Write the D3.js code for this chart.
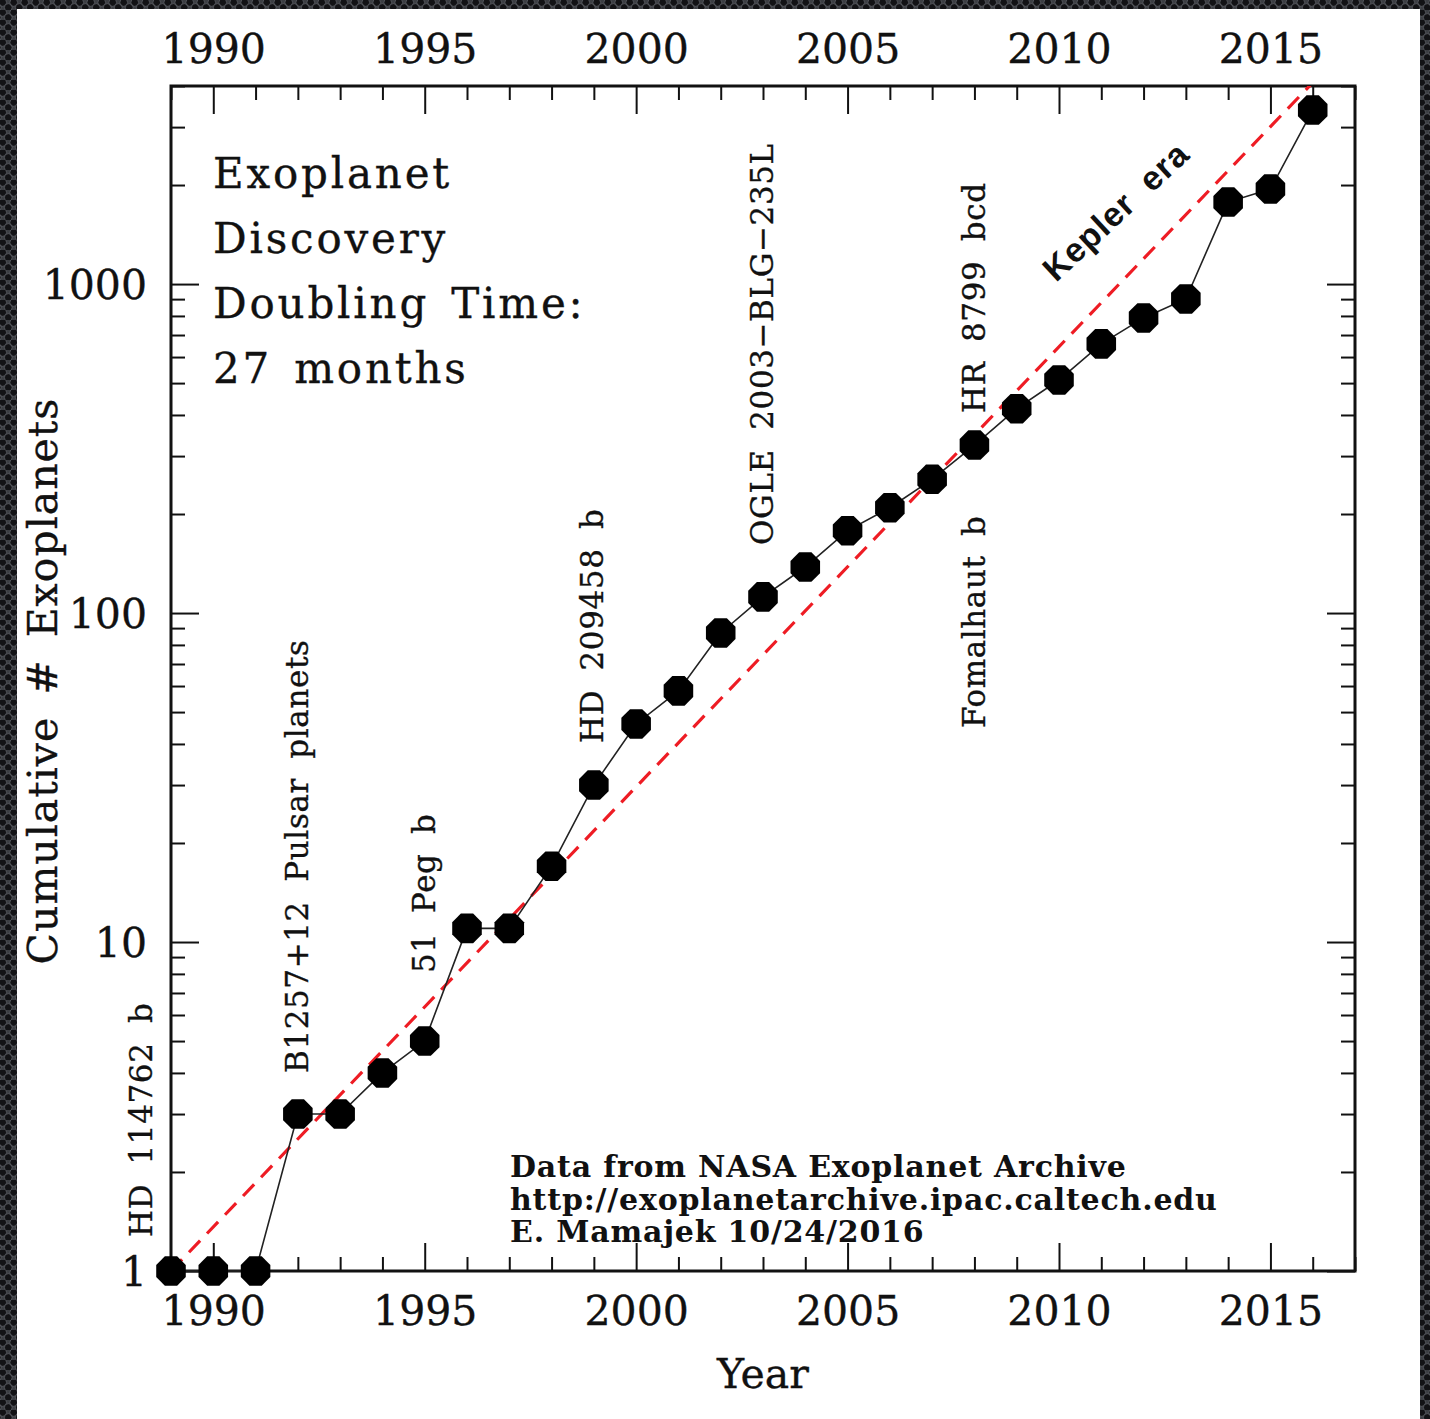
<!DOCTYPE html>
<html>
<head>
<meta charset="utf-8">
<script src="https://cdn.jsdelivr.net/npm/d3@7"></script>
<style>
  html, body { margin: 0; padding: 0; background: #2b2c30; }
  svg { display: block; }
</style>
</head>
<body>
<svg id="chart" width="1430" height="1419"></svg>
<script>
// ---- data -------------------------------------------------------------
const years = [1989, 1990, 1991, 1992, 1993, 1994, 1995, 1996, 1997, 1998,
               1999, 2000, 2001, 2002, 2003, 2004, 2005, 2006, 2007, 2008,
               2009, 2010, 2011, 2012, 2013, 2014, 2015, 2016];
const cumulativePlanets = [1, 1, 1, 3, 3, 4, 5, 11, 11, 17,
                           30, 46, 58, 87, 112, 138, 178, 209, 255, 324,
                           418, 511, 658, 789, 901, 1775, 1944, 3380];

// doubling-time trend (27 months), straight in log space: end points
const trendYears = [1989, 2016];
const trendPlanets = [1, 4096];

const xDomain = [1989, 2017];
const yDomain = [1, 4000];
const xMajorTicks = [1990, 1995, 2000, 2005, 2010, 2015];
const yMajorTicks = [1, 10, 100, 1000];

const milestoneLabels = ["HD 114762 b", "B1257+12 Pulsar planets", "51 Peg b",
                         "HD 209458 b", "OGLE 2003\u2212BLG\u2212235L",
                         "Fomalhaut b", "HR 8799 bcd"];
const titleLines = ["Exoplanet", "Discovery", "Doubling Time:", "27 months"];
const creditLines = ["Data from NASA Exoplanet Archive",
                     "http://exoplanetarchive.ipac.caltech.edu",
                     "E. Mamajek 10/24/2016"];

// ---- layout -----------------------------------------------------------
const W = 1430, H = 1419;
const frame = { left: 171, top: 86, right: 1355, bottom: 1271 };
const serif = "'DejaVu Serif', 'Liberation Serif', serif";
const ink = "#111";

// text placement for the vertical milestone labels: [baseline x, start y]
const milestoneLayout = [[152, 1237], [308, 1073], [435, 973], [603, 743],
                         [773, 545], [985, 728], [985, 413]];

const svg = d3.select("#chart");
const defs = svg.append("defs");

// perforated dark backdrop
const mesh = defs.append("pattern").attr("id", "mesh")
  .attr("width", 11).attr("height", 10).attr("patternUnits", "userSpaceOnUse");
mesh.append("rect").attr("width", 11).attr("height", 10).attr("fill", "#3c3e43");
[[2.75, 2.5], [8.25, 7.5], [-2.75, 7.5], [13.75, 2.5]].forEach(([cx, cy]) => {
  mesh.append("circle").attr("cx", cx).attr("cy", cy).attr("r", 3.9)
    .attr("fill", "#121215").attr("stroke", "#5d6066").attr("stroke-width", 0.8);
});
svg.append("rect").attr("width", W).attr("height", H).attr("fill", "url(#mesh)");
svg.append("rect").attr("x", 17).attr("y", 9).attr("width", 1403).attr("height", H - 9)
  .attr("fill", "#fff");

defs.append("clipPath").attr("id", "plot-clip").append("rect")
  .attr("x", frame.left).attr("y", frame.top)
  .attr("width", frame.right - frame.left).attr("height", frame.bottom - frame.top);

// ---- scales -----------------------------------------------------------
const x = d3.scaleLinear().domain(xDomain).range([frame.left, frame.right]);
const y = d3.scaleLog().domain(yDomain).range([frame.bottom, frame.top]);

const xMinorTicks = d3.range(xDomain[0], xDomain[1] + 1).filter(v => !xMajorTicks.includes(v));
const yMinorTicks = [];
[1, 10, 100, 1000].forEach(dec => d3.range(2, 10).forEach(m => {
  const v = dec * m;
  if (v <= yDomain[1]) yMinorTicks.push(v);
}));

function styleAxis(g, withText) {
  g.select(".domain").remove();
  g.selectAll(".tick line").attr("stroke", ink).attr("stroke-width", 2);
  if (withText) {
    g.selectAll(".tick text").attr("fill", ink).attr("font-family", serif)
      .attr("font-size", 41).attr("stroke", ink).attr("stroke-width", 0.35);
  } else {
    g.selectAll(".tick text").remove();
  }
}

const major = 28, minor = 14;
// bottom
svg.append("g").attr("transform", `translate(0,${frame.bottom})`)
  .call(d3.axisBottom(x).tickValues(xMajorTicks).tickSize(-major).tickPadding(25)
    .tickFormat(d3.format("d")))
  .call(g => styleAxis(g, true));
svg.append("g").attr("transform", `translate(0,${frame.bottom})`)
  .call(d3.axisBottom(x).tickValues(xMinorTicks).tickSize(-minor).tickFormat(""))
  .call(g => styleAxis(g, false));
// top
svg.append("g").attr("transform", `translate(0,${frame.top})`)
  .call(d3.axisTop(x).tickValues(xMajorTicks).tickSize(-major).tickPadding(23)
    .tickFormat(d3.format("d")))
  .call(g => styleAxis(g, true));
svg.append("g").attr("transform", `translate(0,${frame.top})`)
  .call(d3.axisTop(x).tickValues(xMinorTicks).tickSize(-minor).tickFormat(""))
  .call(g => styleAxis(g, false));
// left
svg.append("g").attr("transform", `translate(${frame.left},0)`)
  .call(d3.axisLeft(y).tickValues(yMajorTicks).tickSize(-major).tickPadding(24)
    .tickFormat(d3.format("d")))
  .call(g => styleAxis(g, true))
  .call(g => g.selectAll(".tick text").attr("dy", "0.36em"));
svg.append("g").attr("transform", `translate(${frame.left},0)`)
  .call(d3.axisLeft(y).tickValues(yMinorTicks).tickSize(-minor).tickFormat(""))
  .call(g => styleAxis(g, false));
// right
svg.append("g").attr("transform", `translate(${frame.right},0)`)
  .call(d3.axisRight(y).tickValues(yMajorTicks).tickSize(-major).tickFormat(""))
  .call(g => styleAxis(g, false));
svg.append("g").attr("transform", `translate(${frame.right},0)`)
  .call(d3.axisRight(y).tickValues(yMinorTicks).tickSize(-minor).tickFormat(""))
  .call(g => styleAxis(g, false));

// frame
svg.append("rect").attr("x", frame.left).attr("y", frame.top)
  .attr("width", frame.right - frame.left).attr("height", frame.bottom - frame.top)
  .attr("fill", "none").attr("stroke", ink).attr("stroke-width", 3);

// ---- trend line -------------------------------------------------------
const trend = trendYears.map((t, i) => [t, trendPlanets[i]]);
svg.append("path").datum(trend)
  .attr("clip-path", "url(#plot-clip)")
  .attr("d", d3.line().x(d => x(d[0])).y(d => y(d[1])))
  .attr("fill", "none").attr("stroke", "#ee1c24").attr("stroke-width", 3.2)
  .attr("stroke-dasharray", "16,10");

// ---- cumulative series ------------------------------------------------
const series = years.map((t, i) => [t, cumulativePlanets[i]]);
svg.append("path").datum(series)
  .attr("d", d3.line().x(d => x(d[0])).y(d => y(d[1])))
  .attr("fill", "none").attr("stroke", "#222").attr("stroke-width", 1.6);

const octR = 16;
const octagon = d3.line()(d3.range(8).map(i => {
  const a = Math.PI / 8 + i * Math.PI / 4;
  return [octR * Math.cos(a), octR * Math.sin(a)];
})) + "Z";
svg.append("g").selectAll("path").data(series).join("path")
  .attr("transform", d => `translate(${x(d[0])},${y(d[1])})`)
  .attr("d", octagon).attr("fill", "#000");

// ---- text -------------------------------------------------------------
const heavy = sel => sel.attr("stroke", ink).attr("stroke-width", 0.35);

svg.append("text").attr("x", 763).attr("y", 1388).attr("text-anchor", "middle")
  .attr("font-family", serif).attr("font-size", 41).attr("fill", ink).call(heavy)
  .text("Year");

svg.append("text").attr("transform", "translate(57,681) rotate(-90)")
  .attr("text-anchor", "middle").attr("font-family", serif).attr("font-size", 41)
  .attr("word-spacing", 8).attr("letter-spacing", 1)
  .attr("fill", ink).call(heavy).text("Cumulative # Exoplanets");

svg.append("g").selectAll("text").data(titleLines).join("text")
  .attr("x", 213).attr("y", (d, i) => 188 + i * 65)
  .attr("font-family", serif).attr("font-size", 42).attr("letter-spacing", 2.8)
  .attr("word-spacing", 6).attr("fill", ink).call(heavy).text(d => d);

svg.append("g").selectAll("text").data(milestoneLabels).join("text")
  .attr("transform", (d, i) => `translate(${milestoneLayout[i][0]},${milestoneLayout[i][1]}) rotate(-90)`)
  .attr("font-family", serif).attr("font-size", 31).attr("letter-spacing", 0.6)
  .attr("word-spacing", 9).attr("fill", ink).call(heavy).text(d => d);

svg.append("text").attr("transform", "translate(1056,283) rotate(-43)")
  .attr("font-family", "'Liberation Sans', 'DejaVu Sans', sans-serif")
  .attr("font-weight", "bold").attr("font-size", 34).attr("letter-spacing", 1)
  .attr("word-spacing", 9).attr("fill", ink).text("Kepler era");

svg.append("g").selectAll("text").data(creditLines).join("text")
  .attr("x", 510).attr("y", (d, i) => 1177 + i * 32.5)
  .attr("font-family", serif).attr("font-weight", "bold").attr("font-size", 30)
  .attr("letter-spacing", 0.8).attr("fill", ink).text(d => d);
</script>
</body>
</html>
